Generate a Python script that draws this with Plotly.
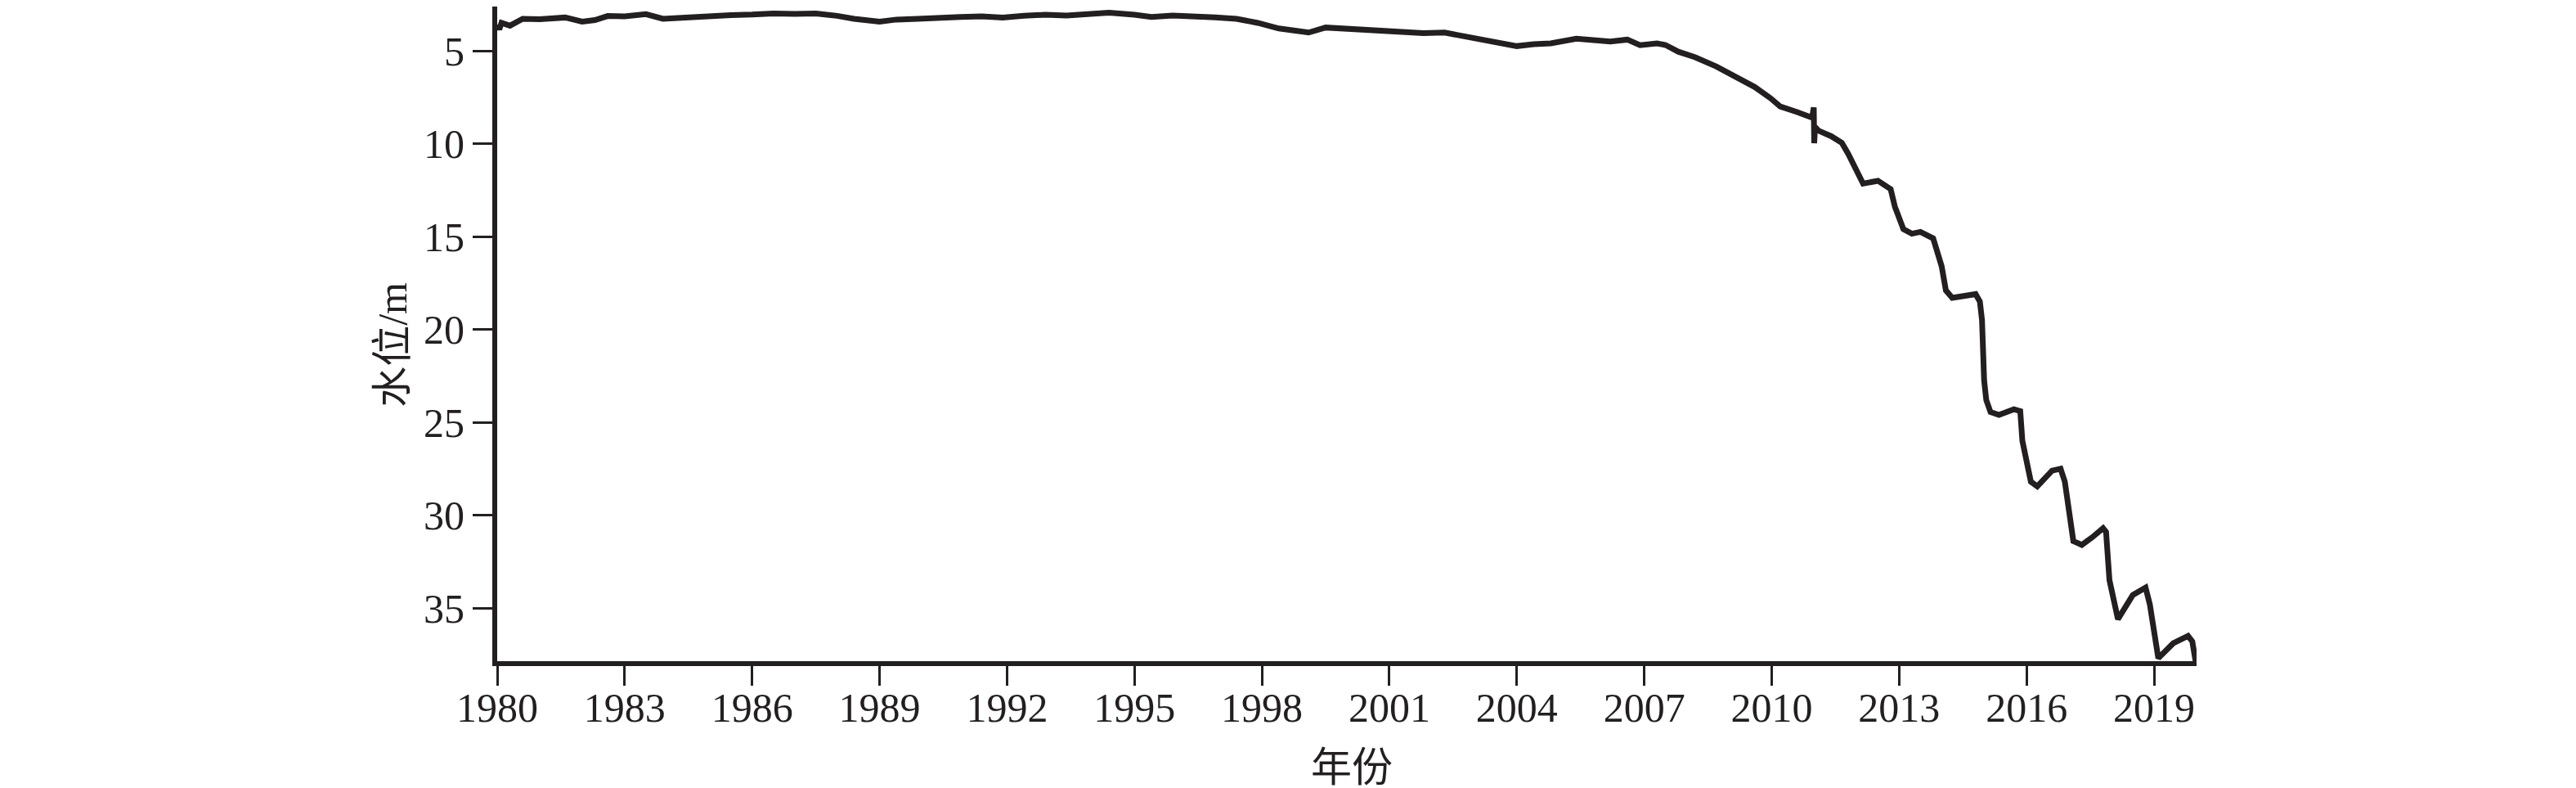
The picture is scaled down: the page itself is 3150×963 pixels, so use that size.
import plotly.graph_objects as go

# Readings of the curve (year, water level in m)
years = [
    1980.0, 1980.05, 1980.1, 1980.3, 1980.6, 1981.0, 1981.6, 1982.0, 1982.3, 1982.6,
    1983.0, 1983.5, 1983.9, 1984.4, 1985.0, 1985.5, 1986.0, 1986.5, 1987.0, 1987.5,
    1988.0, 1988.4, 1989.0, 1989.4, 1989.9, 1990.4, 1990.9, 1991.4, 1991.9, 1992.4,
    1992.9, 1993.4, 1993.9, 1994.4, 1995.0, 1995.4, 1995.9, 1996.4, 1996.9, 1997.4,
    1997.9, 1998.4, 1999.1, 1999.5, 2000.3, 2000.8, 2001.3, 2001.8, 2002.3, 2002.8,
    2003.3, 2003.7, 2004.0, 2004.4, 2004.8, 2005.4, 2005.8, 2006.2, 2006.6, 2006.9,
    2007.3, 2007.5, 2007.8, 2008.2, 2008.7, 2009.2, 2009.6, 2009.97, 2010.2, 2010.6,
    2010.95, 2010.99, 2011.0, 2011.02, 2011.1, 2011.4, 2011.65, 2011.8, 2012.15, 2012.5,
    2012.8, 2012.9, 2013.1, 2013.3, 2013.5, 2013.8, 2014.0, 2014.1, 2014.25, 2014.5,
    2014.8, 2014.9, 2014.95, 2015.0, 2015.05, 2015.15, 2015.35, 2015.7, 2015.85, 2015.9,
    2016.1, 2016.25, 2016.6, 2016.8, 2016.9, 2017.1, 2017.3, 2017.54, 2017.8, 2017.87,
    2017.95, 2018.15, 2018.5, 2018.8, 2018.9, 2019.1, 2019.45, 2019.8, 2019.9, 2019.98,
]
levels = [
    3.60, 3.85, 3.50, 3.65, 3.28, 3.30, 3.21, 3.43, 3.35, 3.13,
    3.15, 3.03, 3.28, 3.20, 3.13, 3.08, 3.05, 2.99, 3.02, 2.99,
    3.12, 3.28, 3.43, 3.32, 3.28, 3.20, 3.18, 3.15, 3.21, 3.12,
    3.06, 3.10, 3.06, 2.95, 3.06, 3.18, 3.10, 3.13, 3.20, 3.28,
    3.50, 3.80, 4.02, 3.75, 3.87, 3.95, 4.02, 4.05, 4.02, 4.25,
    4.46, 4.60, 4.75, 4.65, 4.60, 4.35, 4.45, 4.50, 4.40, 4.70,
    4.60, 4.69, 5.05, 5.35, 5.85, 6.50, 6.95, 7.55, 8.00, 8.30,
    8.60, 8.05, 9.98, 9.10, 9.30, 9.60, 9.95, 10.55, 12.15, 12.00,
    12.45, 13.40, 14.60, 14.85, 14.75, 15.10, 16.60, 17.90, 18.30, 18.20,
    18.10, 18.50, 19.50, 22.75, 23.80, 24.45, 24.60, 24.30, 24.40, 26.00,
    28.20, 28.45, 27.60, 27.50, 28.20, 31.40, 31.60, 31.20, 30.70, 30.90,
    33.50, 35.60, 34.30, 33.90, 34.80, 37.70, 36.90, 36.50, 36.80, 37.90,
]

x_ticks = [1980, 1983, 1986, 1989, 1992, 1995, 1998, 2001, 2004, 2007, 2010, 2013, 2016, 2019]
y_ticks = [5, 10, 15, 20, 25, 30, 35]
x_title = "年份"
y_title = "水位/m"

ink = "#231f20"
font_family = "Liberation Serif, Noto Sans CJK SC, serif"

fig = go.Figure()
fig.add_trace(go.Scatter(
    x=years, y=levels, mode="lines",
    line=dict(color=ink, width=7),
    showlegend=False, hoverinfo="skip",
))

fig.update_layout(
    width=3150, height=963,
    margin=dict(l=600, r=472, t=0, b=163),
    paper_bgcolor="white", plot_bgcolor="white",
    font=dict(family=font_family, size=50, color=ink),
    xaxis=dict(
        range=[1980, 2020], tickmode="array", tickvals=x_ticks,
        ticktext=[str(t) for t in x_ticks],
        showline=True, linewidth=6, linecolor=ink, mirror=False,
        ticks="outside", ticklen=24, tickwidth=2.5, tickcolor=ink,
        ticklabelstandoff=-16,
        showgrid=False, zeroline=False,
        tickfont=dict(family=font_family, size=50, color=ink),
    ),
    yaxis=dict(
        range=[37.86, 2.62], tickmode="array", tickvals=y_ticks,
        ticktext=[str(t) for t in y_ticks],
        showline=True, linewidth=6, linecolor=ink, mirror=False,
        ticks="outside", ticklen=24, tickwidth=2.5, tickcolor=ink,
        showgrid=False, zeroline=False,
        tickfont=dict(family=font_family, size=50, color=ink),
    ),
    annotations=[
        dict(text=x_title, xref="paper", yref="paper", x=0.503, y=-0.1625,
             xanchor="center", yanchor="middle", showarrow=False,
             font=dict(family=font_family, size=50, color=ink)),
        dict(text=y_title, xref="paper", yref="paper", x=-0.0616, y=0.484,
             xanchor="center", yanchor="middle", showarrow=False, textangle=-90,
             font=dict(family=font_family, size=50, color=ink)),
    ],
)

fig.write_html("out.html")
